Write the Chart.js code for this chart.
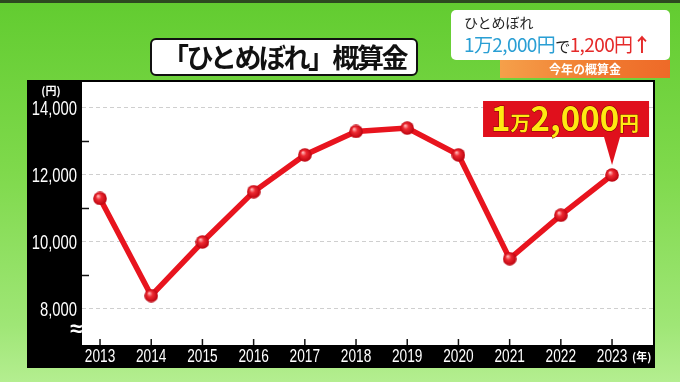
<!DOCTYPE html>
<html lang="ja">
<head>
<meta charset="utf-8">
<script src="https://cdn.jsdelivr.net/npm/chart.js@4.4.0/dist/chart.umd.min.js"></script>
<style>
  html, body { margin: 0; padding: 0; }
  body {
    width: 680px; height: 382px; overflow: hidden; position: relative;
    background: linear-gradient(180deg, #62cc30 0%, #7fd94c 45%, #9fe676 85%, #b4ee90 100%);
    font-family: "Noto Sans CJK JP", sans-serif;
  }
  .topline { position: absolute; left: 0; top: 0; width: 680px; height: 3px; background: #2d4a20; }
  #grafico { position: absolute; left: 0; top: 0; }
  .titulo {
    position: absolute; left: 150px; top: 38px; width: 268px; height: 38px;
    background: #fff; border: 2px solid #111; border-radius: 6px; box-sizing: border-box;
    font-weight: 700; font-size: 27px; letter-spacing: -2.5px; line-height: 33px;
    text-align: center; color: #111;
  }
  .info {
    position: absolute; left: 451px; top: 10px; width: 219px; height: 50px;
    background: #fff; border-radius: 5px;
  }
  .info .l1 { position: absolute; left: 13px; top: 2px; font-size: 14px; color: #222; }
  .info .l2 { position: absolute; left: 13px; top: 20px; font-size: 19px; white-space: nowrap; letter-spacing: -0.6px; }
  .azul { color: #2a9fd4; }
  .verm { color: #e52a2a; }
  .de { color: #222; font-size: 15px; }
  .faixa {
    position: absolute; left: 500px; top: 60px; width: 170px; height: 18px;
    background: linear-gradient(90deg, #f5a04a, #f07a30 60%, #ee6a28);
    color: #fff; font-weight: 700; font-size: 12px; line-height: 18px; text-align: center;
  }
</style>
</head>
<body>
<div class="topline"></div>
<canvas id="grafico" width="680" height="382"></canvas>
<div class="titulo">「ひとめぼれ」概算金</div>
<div class="info">
  <div class="l1">ひとめぼれ</div>
  <div class="l2"><span class="azul">1万2,000円</span><span class="de">で</span><span class="verm">1,200円</span><span class="verm" style="font-weight:700">↑</span></div>
</div>
<div class="faixa">今年の概算金</div>
<script>
const anos = [2013, 2014, 2015, 2016, 2017, 2018, 2019, 2020, 2021, 2022, 2023];
const precos = [11300, 8400, 10000, 11500, 12600, 13300, 13400, 12600, 9500, 10800, 12000];
const ticksY = [8000, 9000, 10000, 11000, 12000, 13000, 14000];
const rotuloDestaque = ['1', '万', '2,000', '円'];

const fonteNum = "'Liberation Sans', sans-serif";
const fonteJp = "'Noto Sans CJK JP', sans-serif";

// ponto com brilho
function criarPonto() {
  const c = document.createElement('canvas');
  c.width = 14; c.height = 14;
  const g = c.getContext('2d');
  const grad = g.createRadialGradient(5, 4.5, 0.5, 7, 7, 7);
  grad.addColorStop(0, '#ffb0b0');
  grad.addColorStop(0.35, '#ee2a32');
  grad.addColorStop(1, '#b8000c');
  g.fillStyle = grad;
  g.beginPath(); g.arc(7, 7, 6.8, 0, Math.PI * 2); g.fill();
  return c;
}

// texto estreito (condensado)
function textoEstreito(ctx, t, x, y, escala, align) {
  ctx.save();
  ctx.translate(x, y);
  ctx.scale(escala, 1);
  ctx.textAlign = align;
  ctx.fillText(t, 0, 0);
  ctx.restore();
}

// fundo preto + área branca
const molduraPlugin = {
  id: 'moldura',
  beforeDraw(chart) {
    const { ctx, chartArea: a } = chart;
    ctx.save();
    ctx.fillStyle = '#000';
    ctx.fillRect(27, 80, a.right + 2 - 27, a.bottom + 23 - 80);
    ctx.fillStyle = '#fff';
    ctx.fillRect(a.left, a.top, a.right - a.left, a.bottom - a.top);
    ctx.restore();
  },
  afterDraw(chart) {
    const { ctx, chartArea: a, scales } = chart;
    ctx.save();
    ctx.strokeStyle = '#111';
    ctx.lineWidth = 1.5;
    // marcas menores no eixo y
    ticksY.filter(v => v % 2000 !== 0).forEach(v => {
      const y = scales.y.getPixelForValue(v);
      ctx.beginPath(); ctx.moveTo(a.left, y); ctx.lineTo(a.left + 7, y); ctx.stroke();
    });
    // marcas no eixo x
    anos.forEach(v => {
      const x = scales.x.getPixelForValue(v);
      ctx.beginPath(); ctx.moveTo(x, a.bottom); ctx.lineTo(x, a.bottom - 6); ctx.stroke();
    });
    ctx.fillStyle = '#fff';
    ctx.textBaseline = 'middle';
    // rótulos do eixo y
    ctx.font = "20px " + fonteNum;
    ticksY.filter(v => v % 2000 === 0).forEach(v => {
      textoEstreito(ctx, v.toLocaleString('en-US'), a.left - 5, scales.y.getPixelForValue(v) + 1, 0.74, 'right');
    });
    // rótulos do eixo x
    ctx.font = "19px " + fonteNum;
    anos.forEach(v => {
      textoEstreito(ctx, String(v), scales.x.getPixelForValue(v), a.bottom + 12, 0.72, 'center');
    });
    ctx.font = "bold 11px " + fonteJp;
    ctx.textAlign = 'center';
    ctx.fillText('(円)', 51, 91);
    ctx.textAlign = 'left';
    ctx.fillText('(年)', scales.x.getPixelForValue(anos[anos.length - 1]) + 20, a.bottom + 12);
    ctx.font = "bold 22px " + fonteNum;
    ctx.textAlign = 'center';
    ctx.fillText('≈', a.left - 6, a.bottom - 15);
    ctx.restore();
  }
};

// balão "1万2,000円"
const destaquePlugin = {
  id: 'destaque',
  afterDatasetsDraw(chart) {
    const { ctx } = chart;
    const meta = chart.getDatasetMeta(0);
    const p = meta.data[meta.data.length - 1];
    const bx = p.x - 129, by = p.y - 74, bw = 166, bh = 36;
    ctx.save();
    ctx.fillStyle = '#e0101c';
    ctx.fillRect(bx, by, bw, bh);
    ctx.beginPath();
    ctx.moveTo(p.x - 8, by + bh);
    ctx.lineTo(p.x + 8, by + bh);
    ctx.lineTo(p.x, p.y - 10);
    ctx.closePath();
    ctx.fill();
    ctx.fillStyle = '#ffe812';
    ctx.strokeStyle = '#7a0008';
    ctx.lineWidth = 1;
    ctx.textBaseline = 'alphabetic';
    ctx.textAlign = 'left';
    const base = by + bh - 6;
    const grandes = [true, false, true, false];
    let x = bx + 8;
    rotuloDestaque.forEach((t, i) => {
      ctx.font = (grandes[i] ? "bold 33px " : "bold 20px ") + fonteJp;
      ctx.strokeText(t, x, base);
      ctx.fillText(t, x, base);
      x += ctx.measureText(t).width;
    });
    ctx.restore();
  }
};

new Chart(document.getElementById('grafico'), {
  type: 'line',
  data: {
    datasets: [{
      data: anos.map((a, i) => ({ x: a, y: precos[i] })),
      borderColor: '#e8141e',
      borderWidth: 5.5,
      pointStyle: criarPonto(),
      pointRadius: 7,
      tension: 0
    }]
  },
  options: {
    responsive: false,
    animation: false,
    layout: { padding: { left: 27, right: 27, top: 82, bottom: 14 } },
    plugins: { legend: { display: false }, tooltip: { enabled: false } },
    scales: {
      x: {
        type: 'linear',
        min: 2012.648,
        max: 2023.8,
        afterBuildTicks: s => { s.ticks = anos.map(v => ({ value: v })); },
        afterFit: s => { s.height = 23; },
        grid: { display: false, drawTicks: false },
        border: { display: false },
        ticks: { display: false }
      },
      y: {
        min: 6925,
        max: 14776,
        afterBuildTicks: s => { s.ticks = ticksY.map(v => ({ value: v })); },
        afterFit: s => { s.width = 55; },
        grid: {
          drawTicks: false,
          color: c => (c.tick && c.tick.value % 2000 === 0) ? '#cfcfcf' : 'rgba(0,0,0,0)'
        },
        border: { display: false, dash: [4, 3] },
        ticks: { display: false }
      }
    }
  },
  plugins: [molduraPlugin, destaquePlugin]
});
</script>
</body>
</html>
